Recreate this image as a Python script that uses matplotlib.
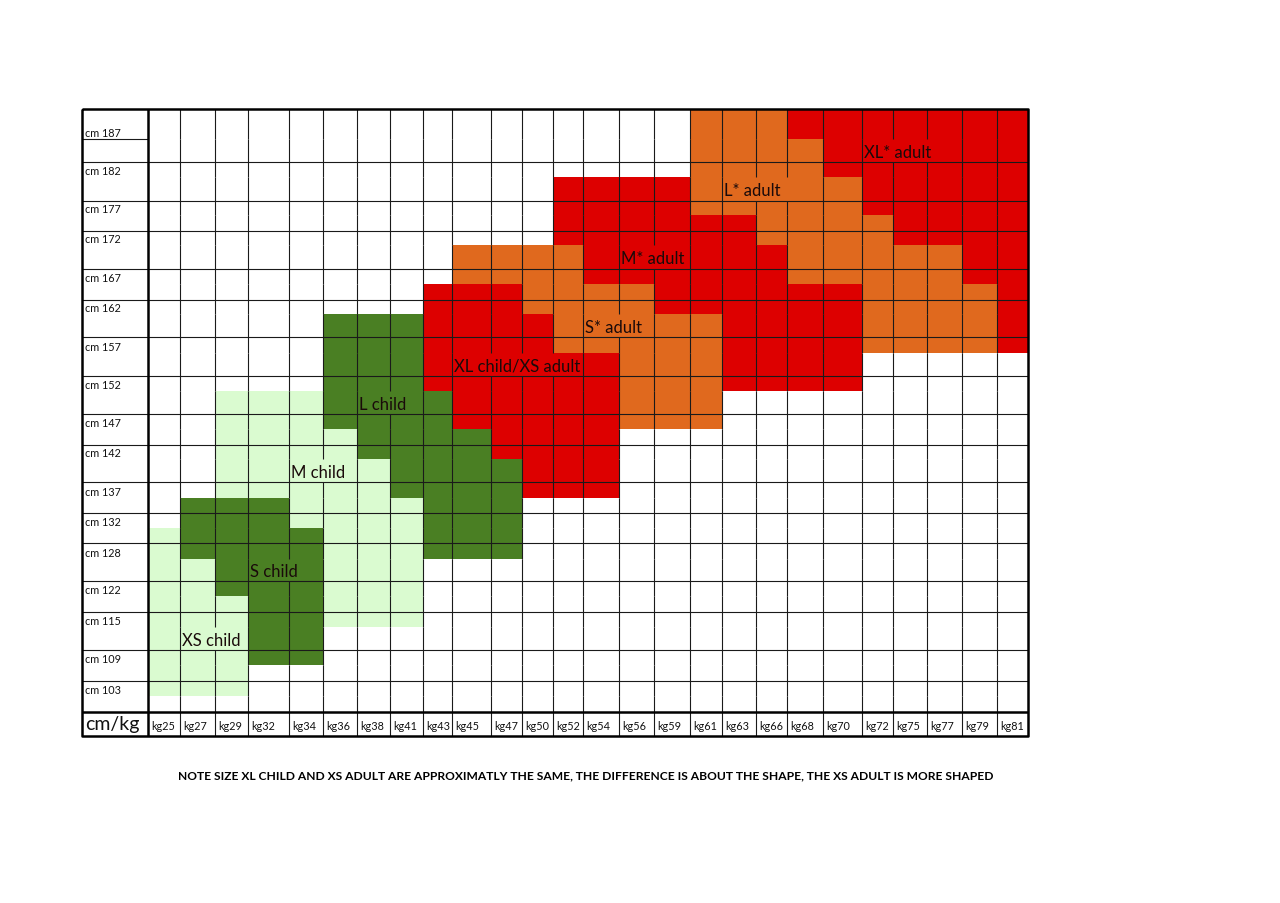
# Size chart: weight (kg) across, height (cm) down, size zones coloured
import numpy as np
import matplotlib
matplotlib.use("Agg")
import matplotlib.pyplot as plt
from matplotlib.colors import ListedColormap
from matplotlib.collections import LineCollection

plt.rcParams['font.family'] = ['Lato', 'DejaVu Sans']

weights = ['kg25', 'kg27', 'kg29', 'kg32', 'kg34', 'kg36', 'kg38', 'kg41', 'kg43',
           'kg45', 'kg47', 'kg50', 'kg52', 'kg54', 'kg56', 'kg59', 'kg61', 'kg63',
           'kg66', 'kg68', 'kg70', 'kg72', 'kg75', 'kg77', 'kg79', 'kg81']
heights = ['cm 187', 'cm 182', 'cm 177', 'cm 172', 'cm 167', 'cm 162', 'cm 157',
           'cm 152', 'cm 147', 'cm 142', 'cm 137', 'cm 132', 'cm 128', 'cm 122',
           'cm 115', 'cm 109', 'cm 103']

# zone of every half row (two per height row), one char per weight column
# . none   g light green   G dark green   r red   o orange
zones = [
    '................ooorrrrrrr',
    '................oooorrrrrr',
    '................oooorrrrrr',
    '............rrrrooooorrrrr',
    '............rrrrooooorrrrr',
    '............rrrrrroooorrrr',
    '............rrrrrroooorrrr',
    '.........oooorrrrrrooooorr',
    '.........oooorrrrrrooooorr',
    '........rrroooorrrrrroooor',
    '........rrroooorrrrrroooor',
    '.....GGGrrrrooooorrrroooor',
    '.....GGGrrrrooooorrrroooor',
    '.....GGGrrrrrrooorrrr.....',
    '.....GGGrrrrrrooorrrr.....',
    '..gggGGGGrrrrrooo.........',
    '..gggGGGGrrrrrooo.........',
    '..ggggGGGGrrrr............',
    '..ggggGGGGrrrr............',
    '..gggggGGGGrrr............',
    '..gggggGGGGrrr............',
    '.GGGggggGGG...............',
    '.GGGggggGGG...............',
    'gGGGGgggGGG...............',
    'gGGGGgggGGG...............',
    'ggGGGggg..................',
    'ggGGGggg..................',
    'gggGGggg..................',
    'gggGGggg..................',
    'gggGG.....................',
    'gggGG.....................',
    'ggg.......................',
    'ggg.......................',
    '..........................',
]
zone_codes = '.gGro'
zone_colors = ['white', '#dafbd0', '#4a7f23', '#dd0000', '#e0691e']

size_labels = ['XS child', 'S child', 'M child', 'L child', 'XL child/XS adult',
               'S* adult', 'M* adult', 'L* adult', 'XL* adult']
# half row and first column of each label, and how many columns its text covers
label_row = [29, 25, 19, 15, 13, 11, 7, 3, 1]
label_col = [1, 3, 4, 6, 9, 13, 14, 17, 21]
label_span = [2, 2, 2, 2, 4, 2, 2, 3, 3]

note = ('NOTE SIZE XL CHILD AND XS ADULT ARE APPROXIMATLY THE SAME, THE DIFFERENCE '
        'IS ABOUT THE SHAPE, THE XS ADULT IS MORE SHAPED')

# sheet layout (pixels)
x0, y0 = 82, 110
head_w = 66
foot_h = 24
col_w = [32, 35, 33, 41, 34, 34, 33, 33, 29, 39, 31, 31, 30, 36, 35, 36, 32, 34,
         31, 36, 39, 31, 34, 35, 35, 31]
half_h = [30, 23, 15, 24, 14, 16, 14, 24, 15, 16, 14, 23, 16, 23, 15, 23, 15, 16,
          14, 23, 16, 15, 15, 15, 16, 22, 15, 16, 15, 23, 15, 16, 15, 16]

xe = x0 + head_w + np.concatenate([[0], np.cumsum(col_w)])
ye = y0 + np.concatenate([[0], np.cumsum(half_h)])
x_end = xe[-1]
y_grid = ye[-1]
y_end = y_grid + foot_h

fig = plt.figure(figsize=(12.8, 9.04), dpi=100)
fig.patch.set_facecolor('white')
ax = fig.add_axes([0, 0, 1, 1])
ax.set_xlim(0, 1280)
ax.set_ylim(904, 0)
ax.axis('off')

# coloured cells
idx = np.array([[zone_codes.index(ch) for ch in row] for row in zones])
ax.pcolormesh(xe, ye, idx, cmap=ListedColormap(zone_colors), vmin=-0.5,
              vmax=len(zone_colors) - 0.5, shading='flat', antialiased=False)

# grid lines; borders are hidden where a label's text runs over them
hidden = set()
for r, c, s in zip(label_row, label_col, label_span):
    for k in range(1, s):
        hidden.add((r, c + k))

segs = []
for j in range(2, len(ye) - 1, 2):
    segs.append([(x0, ye[j]), (x_end, ye[j])])
segs.append([(x0, ye[1]), (xe[0], ye[1])])
for i in range(1, len(xe) - 1):
    for j in range(len(half_h)):
        if (j, i) not in hidden:
            segs.append([(xe[i], ye[j]), (xe[i], ye[j + 1])])
    segs.append([(xe[i], y_grid), (xe[i], y_end)])
ax.add_collection(LineCollection(segs, colors='#1a1a1a', linewidths=0.8))

thick = [[(x0, y0), (x_end, y0), (x_end, y_end), (x0, y_end), (x0, y0)],
         [(xe[0], y0), (xe[0], y_end)],
         [(x0, y_grid), (x_end, y_grid)]]
ax.add_collection(LineCollection(thick, colors='black', linewidths=1.8))

# height labels
for k, lab in enumerate(heights):
    ax.text(x0 + 3, ye[2 * k + 1] - 3, lab, fontsize=7.8, ha='left', va='baseline',
            color='#111111')

# weight labels
for k, lab in enumerate(weights):
    ax.text(xe[k] + 3, y_grid + foot_h / 2 + 2, lab, fontsize=7.8, ha='left',
            va='center', color='#111111')
ax.text(x0 + 3, y_grid + foot_h / 2, 'cm/kg', fontsize=14, ha='left', va='center',
        color='#111111')

# size zone labels
for lab, r, c in zip(size_labels, label_row, label_col):
    ax.text(xe[c] + 2, (ye[r] + ye[r + 1]) / 2 + 1.5, lab, fontsize=12, ha='left',
            va='center', color='#1a0a0a')

# note under the chart, fitted to the width it takes in the sheet
t = ax.text(586, 776, note, fontsize=8, fontweight='bold', ha='center',
            va='center', color='black',
            family=['Liberation Sans Narrow', 'Lato', 'DejaVu Sans'])
fig.canvas.draw()
w = t.get_window_extent().width
t.set_fontsize(8 * 808 / w)

fig.savefig('out.png', dpi=100, facecolor='white')
